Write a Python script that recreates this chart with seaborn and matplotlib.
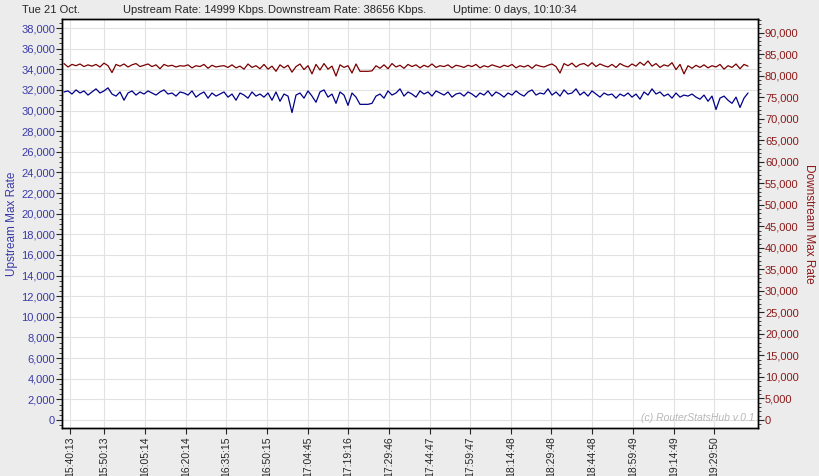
import pandas as pd
import matplotlib
matplotlib.use("Agg")
import matplotlib.pyplot as plt
from matplotlib.ticker import FuncFormatter, MultipleLocator, AutoMinorLocator
import seaborn as sns

# sample values (one every ~4 px)
upstream = [
    31800, 31900, 31600, 32000, 31700, 31900, 31500, 31800, 32100, 31700,
    31900, 32200, 31600, 31400, 31800, 31000, 31700, 31900, 31500, 31800,
    31600, 31900, 31700, 31500, 31800, 32000, 31600, 31700, 31400, 31800,
    31700, 31500, 31900, 31300, 31600, 31800, 31200, 31700, 31400, 31600,
    31800, 31300, 31600, 31000, 31700, 31500, 31200, 31800, 31400, 31600,
    31300, 31700, 31000, 31800, 30900, 31600, 31400, 29800, 31500, 31700,
    31200, 31900, 31400, 30800, 31800, 32000, 31300, 31600, 30700, 31800,
    31500, 30500, 31700, 31300, 30600, 30600, 30600, 30700, 31400, 31600,
    31200, 31900, 31500, 31700, 32100, 31400, 31800, 31600, 31300, 31900,
    31600, 31800, 31400, 31900, 31700, 31500, 31800, 31300, 31600, 31700,
    31400, 31800, 31600, 31300, 31700, 31500, 31900, 31400, 31800, 31600,
    31300, 31700, 31500, 31900, 31600, 31400, 31800, 32000, 31500, 31700,
    31600, 32100, 31500, 31800, 31400, 32000, 31600, 31700, 32100, 31500,
    31800, 31400, 31900, 31600, 31300, 31700, 31500, 31600, 31200, 31600,
    31400, 31700, 31300, 31600, 31100, 31800, 31500, 32100, 31600, 31800,
    31400, 31600, 31200, 31700, 31300, 31500, 31400, 31600, 31300, 31100,
    31500, 30900, 31400, 30100, 31200, 31400, 31000, 30700, 31300, 30300,
    31200, 31700,
]
downstream = [
    82800, 82000, 82600, 82300, 82700, 82100, 82500, 82200, 82600, 82000,
    82900, 82300, 80700, 82600, 82200, 82700, 82000, 82500, 82800, 82100,
    82400, 82700, 82100, 82500, 81600, 82600, 82200, 82400, 82000, 82300,
    82200, 82500, 81800, 82300, 82100, 82600, 81700, 82400, 82000, 82200,
    82300, 81900, 82500, 81800, 82200, 81500, 82700, 81900, 82300, 81600,
    82600, 81500, 82200, 81000, 82500, 81800, 82400, 80800, 82100, 82700,
    81400, 82300, 80400, 82600, 81300, 82800, 81500, 82200, 79900, 82500,
    81900, 82300, 80600, 82700, 81000, 81000, 81000, 81100, 82300, 81700,
    82500, 81600, 82800, 82000, 82400, 81700, 82600, 82100, 82500, 81800,
    82400, 82000, 82700, 81900, 82300, 82100, 82500, 81800, 82400, 82200,
    81900, 82400, 82100, 82600, 81800, 82300, 82000, 82500, 82200, 81900,
    82400, 82100, 82600, 81800, 82300, 82000, 82400, 81700, 82500, 82200,
    82000, 82400, 82700, 82100, 80600, 82800, 82300, 82900, 82000, 82600,
    82800, 82200, 83000, 82100, 82700, 82300, 82000, 82600, 81900, 82800,
    82300, 82000, 82700, 82200, 83100, 82400, 83400, 82200, 82800, 81900,
    82500, 82200, 83000, 81400, 82600, 80400, 82300, 81700, 82400, 81900,
    82500, 81800, 82300, 82000, 82600, 81500, 82300, 81900, 82700, 81600,
    82600, 82200,
]
tick_labels = ["15:40:13", "15:50:13", "16:05:14", "16:20:14", "16:35:15", "16:50:15",
               "17:04:45", "17:19:16", "17:29:46", "17:44:47", "17:59:47", "18:14:48",
               "18:29:48", "18:44:48", "18:59:49", "19:14:49", "19:29:50"]
tick_idx = [1.5, 10, 20.25, 30.5, 40.5, 50.75, 61, 71, 81.25, 91.5, 101.5,
            111.75, 121.75, 132, 142.25, 152.5, 162.5]

df = pd.DataFrame({"i": range(len(upstream)), "up": upstream, "down": downstream})

sns.set_style("white")
plt.rcParams["font.family"] = ["Liberation Sans", "DejaVu Sans"]

blue = "#3a3aa8"
red = "#8b1a1a"

fig = plt.figure(figsize=(8.2, 4.76), dpi=100, facecolor="#ececec")
ax = fig.add_axes([0.0756, 0.1008, 0.8488, 0.8592])
ax.set_facecolor("white")
sns.lineplot(data=df, x="i", y="up", ax=ax, color="#00008b", linewidth=0.9)
ax2 = ax.twinx()
sns.lineplot(data=df, x="i", y="down", ax=ax2, color="#7a0000", linewidth=0.9)

ax.set_xlim(-0.5, 173.5)
ax.set_ylim(-780, 38870)
ax2.set_ylim(-1860, 93140)

fmt = FuncFormatter(lambda v, p: f"{int(v):,}")
ax.yaxis.set_major_locator(MultipleLocator(2000))
ax.yaxis.set_minor_locator(AutoMinorLocator(4))
ax.yaxis.set_major_formatter(fmt)
ax2.yaxis.set_major_locator(MultipleLocator(5000))
ax2.yaxis.set_minor_locator(AutoMinorLocator(5))
ax2.yaxis.set_major_formatter(fmt)

ax.set_xticks(tick_idx)
ax.set_xticklabels(tick_labels, rotation=90, fontsize=7.5)
ax.grid(True, color="#e2e2e2", linewidth=0.8)
ax.set_axisbelow(True)

ax.tick_params(axis="y", which="both", left=True, direction="out", labelsize=8, labelcolor=blue, pad=1)
ax.tick_params(axis="y", which="major", length=4)
ax.tick_params(axis="y", which="minor", length=2)
ax.tick_params(axis="x", bottom=True, length=4, pad=2)
ax2.tick_params(axis="y", which="both", right=True, direction="out", labelsize=8, labelcolor=red, pad=1)
ax2.tick_params(axis="y", which="major", length=4)
ax2.tick_params(axis="y", which="minor", length=2)

ax.set_xlabel("")
ax.set_ylabel("Upstream Max Rate", color=blue, fontsize=8.5, labelpad=2)
ax2.set_ylabel("Downstream Max Rate", color=red, fontsize=8.5, rotation=-90, labelpad=12)
for a in (ax, ax2):
    for s in a.spines.values():
        s.set_color("black")
        s.set_linewidth(1)

ax.text(0.995, 0.012, "(c) RouterStatsHub v.0.1", transform=ax.transAxes, ha="right",
        va="bottom", fontsize=7.5, style="italic", color="#b8b8b8")

fig.text(0.027, 0.979, "Tue 21 Oct.", fontsize=8, va="center")
fig.text(0.150, 0.979, "Upstream Rate: 14999 Kbps.", fontsize=8, va="center")
fig.text(0.327, 0.979, "Downstream Rate: 38656 Kbps.", fontsize=8, va="center")
fig.text(0.552, 0.979, "Uptime: 0 days, 10:10:34", fontsize=8, va="center")

fig.savefig("out.png", dpi=100, facecolor=fig.get_facecolor())
